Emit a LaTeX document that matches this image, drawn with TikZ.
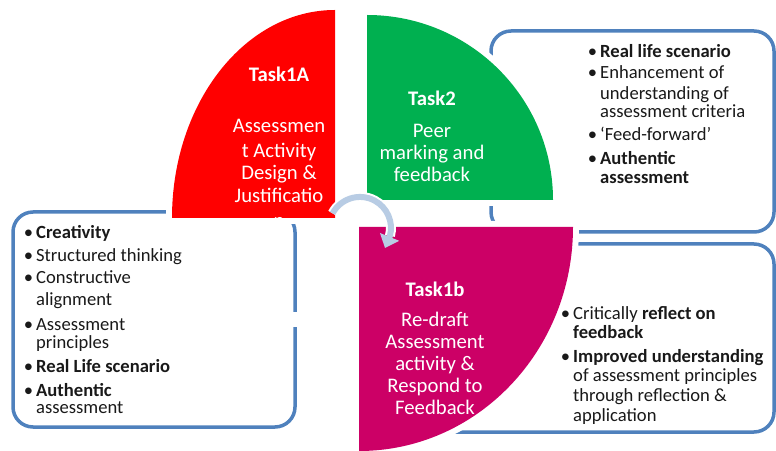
\documentclass[tikz,border=0pt]{standalone}
\usepackage{fontspec}
\setmainfont{Carlito}
\usetikzlibrary{arrows.meta}
\definecolor{boxblue}{RGB}{79,129,189}
\definecolor{taskred}{RGB}{255,0,0}
\definecolor{taskgreen}{RGB}{0,176,80}
\definecolor{taskmag}{RGB}{204,0,102}
\definecolor{arrblue}{RGB}{184,204,228}
\definecolor{txt}{RGB}{25,25,25}
\newcommand{\bul}{\llap{\textbullet\hspace{3pt}}}
\tikzset{
  infobox/.style={draw=boxblue, line width=3.5pt, rounded corners=20pt},
  quarter/.style={preaction={draw=white, line width=12pt}},
  tasktext/.style={anchor=base, inner sep=0pt, text=white, font=\fontsize{20.7}{23}\selectfont},
  boxtext/.style={anchor=base west, inner sep=0pt, text=txt, font=\fontsize{18.6}{20}\selectfont},
}
\begin{document}
\begin{tikzpicture}[x=1pt,y=1pt]
\useasboundingbox (0,0) rectangle (776,450);
% information boxes (behind)
\draw[infobox] (491,419) rectangle (774,218);
\draw[infobox] (13,238) rectangle (295,23);
\draw[infobox] (400,206) rectangle (774,18);
\fill[white] (290,123) rectangle (300,138);
% quarter shapes
\begin{scope}
\clip (0,0) rectangle (776,450);
\fill[taskred, quarter] (335,232) -- (172,232) arc[start angle=180, end angle=90, x radius=163, y radius=208] -- cycle;
\fill[taskgreen, quarter] (367,250) -- (367,435) arc[start angle=90, end angle=0, x radius=186, y radius=185] -- cycle;
\fill[taskmag, quarter] (359,223) -- (573,223) arc[start angle=0, end angle=-90, x radius=214, y radius=224] -- cycle;
\end{scope}
% cycle arrow
\coordinate (arrS) at (332.6,236.6);
\coordinate (arrT) at (385,202);
\draw[white, line width=10pt] (arrS) arc[start angle=152, end angle=-15, radius=31];
\draw[arrblue, line width=6pt, -{Triangle[width=20pt,length=12pt]}] (arrS) arc[start angle=152, end angle=-15, radius=31] -- (arrT);
% task texts
\foreach \t/\yy [count=\i] in {{\textbf{Task1A}}/368, Assessmen/317, t Activity/292, Design \&/270, Justificatio/247, n/222}
  \node[tasktext] (red\i) at (279,\yy) {\t};
\foreach \t/\yy [count=\i] in {{\textbf{Task2}}/344, Peer/312, marking and/290, feedback/268}
  \node[tasktext] (green\i) at (432,\yy) {\t};
\foreach \t/\yy [count=\i] in {{\textbf{Task1b}}/153, Re-draft/124, Assessment/102, activity \&/80, Respond to/58, Feedback/36}
  \node[tasktext] (mag\i) at (435,\yy) {\t};
% box texts
\foreach \t/\yy [count=\i] in {{\bul\textbf{Real life scenario}}/392, {\bul Enhancement of}/371, understanding of/350, assessment criteria/332, {\bul ‘Feed-forward’}/309, {\bul\textbf{Authentic}}/285, {\textbf{assessment}}/266}
  \node[boxtext] (tr\i) at (600,\yy) {\t};
\foreach \t/\yy [count=\i] in {{\bul\textbf{Creativity}}/211, {\bul Structured thinking}/188, {\bul Constructive}/166, alignment/144, {\bul Assessment}/120, principles/102, {\bul\textbf{Real Life scenario}}/78, {\bul\textbf{Authentic}}/54, assessment/37}
  \node[boxtext] (lb\i) at (36,\yy) {\t};
\foreach \t/\yy [count=\i] in {{\bul Critically \textbf{reflect on}}/131, {\textbf{feedback}}/112, {\bul\textbf{Improved understanding}}/88, of assessment principles/69, through reflection \&/49, application/29}
  \node[boxtext] (br\i) at (573,\yy) {\t};
\end{tikzpicture}
\end{document}
